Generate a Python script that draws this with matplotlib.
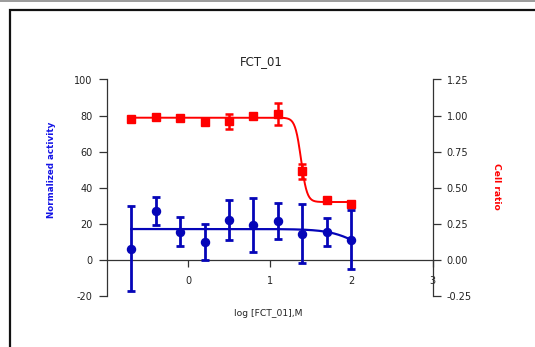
import numpy as np
import matplotlib
matplotlib.use("Agg")
import matplotlib.pyplot as plt
from matplotlib.patches import Rectangle
from matplotlib.lines import Line2D

plt.rcParams["font.family"] = ["DejaVu Sans"]
plt.rcParams["axes.unicode_minus"] = False

# log concentration (2-fold dilution series)
log_conc = [-0.7, -0.4, -0.1, 0.2, 0.5, 0.8, 1.1, 1.4, 1.7, 2.0]

# normalized activity (left axis), mean and error
activity = [6.0, 27.0, 15.5, 10.0, 22.0, 19.5, 21.5, 14.5, 15.2, 11.0]
activity_err = [23.6, 8.0, 8.0, 10.0, 11.2, 15.0, 10.0, 16.2, 7.7, 16.3]

# cell ratio (right axis), mean and error
cell_ratio = [0.973, 0.99, 0.984, 0.953, 0.962, 1.0, 1.01, 0.613, 0.414, 0.389]
cell_ratio_err = [0.0, 0.0, 0.0, 0.0, 0.052, 0.0, 0.079, 0.053, 0.0, 0.0]

# four-parameter logistic fits: top, bottom, logIC50, hill slope
activity_fit = (17.0, 0.0, 2.11, 2.4)
cell_ratio_fit = (0.985, 0.40, 1.385, 12.0)

left_ticks = [-20, 0, 20, 40, 60, 80, 100]
right_ticks = [-0.25, 0.0, 0.25, 0.5, 0.75, 1.0, 1.25]
x_ticks = [0, 1, 2, 3]


def logistic4(x, top, bottom, logic50, hill):
    return bottom + (top - bottom) / (1.0 + 10.0 ** ((x - logic50) * hill))


W, H = 535, 347
fig = plt.figure(figsize=(W / 100, H / 100), dpi=100)
fig.patch.set_facecolor("white")

# page frame
fig.add_artist(Line2D([0, 1], [1 - 0.7 / H, 1 - 0.7 / H], transform=fig.transFigure,
                      color="#8a8a8a", lw=1.2))
fig.add_artist(Rectangle((10 / W, -0.2), 1.2, 1.2 - 10 / H, transform=fig.transFigure,
                         fill=False, edgecolor="#111111", lw=1.6, clip_on=False))

ax_l, ax_r, ax_t, ax_b = 106.7, 432.7, 79.5, 295.7
ax = fig.add_axes([ax_l / W, (H - ax_b) / H, (ax_r - ax_l) / W, (ax_b - ax_t) / H])
ax.set_facecolor("none")
ax2 = ax.twinx()

blue = "#0505B8"
red = "#FF0000"
axis_col = "#333333"
text_col = "#222222"

# activity series
xf = np.linspace(log_conc[0], log_conc[-1], 400)
ax.plot(xf, logistic4(xf, *activity_fit), color=blue, lw=1.6, zorder=2)
ax.errorbar(log_conc, activity, yerr=activity_err, fmt="o", color=blue, ms=5.8,
            elinewidth=2.0, capsize=3.2, capthick=2.0, zorder=3)

# cell ratio series
ax2.plot(xf, logistic4(xf, *cell_ratio_fit), color=red, lw=1.4, zorder=2)
ax2.errorbar(log_conc, cell_ratio, yerr=cell_ratio_err, fmt="s", color=red, ms=5.4,
             elinewidth=1.8, capsize=3.0, capthick=1.8, zorder=3)

ax.set_xlim(-1, 3)
ax.set_ylim(-20, 100)
ax2.set_ylim(-0.25, 1.25)

for a in (ax, ax2):
    a.spines["top"].set_visible(False)
    for s in a.spines.values():
        s.set_color(axis_col)
        s.set_linewidth(0.9)
ax.spines["right"].set_visible(False)
ax.spines["bottom"].set_position(("data", 0))
ax2.spines["left"].set_visible(False)
ax2.spines["bottom"].set_visible(False)

ax.set_xticks(x_ticks)
ax.set_xticklabels([str(v) for v in x_ticks])
ax.set_yticks(left_ticks)
ax.set_yticklabels([str(v) for v in left_ticks])
ax2.set_yticks(right_ticks)
ax2.set_yticklabels(["%.2f" % v for v in right_ticks])

ax.tick_params(axis="x", direction="out", length=5, width=0.9, colors=axis_col,
               labelcolor=text_col, labelsize=7, pad=6.5)
ax.tick_params(axis="y", direction="out", length=6, width=0.9, colors=axis_col,
               labelcolor=text_col, labelsize=7, pad=4)
ax2.tick_params(axis="y", direction="out", length=6, width=0.9, colors=axis_col,
                labelcolor=text_col, labelsize=7, pad=4)

fig.text(261.5 / W, 1 - 61.5 / H, "FCT_01", ha="center", va="center",
         fontsize=8.5, color=text_col)
fig.text(268.5 / W, 1 - 313 / H, "log [FCT_01],M", ha="center", va="center",
         fontsize=6.6, color=text_col)
fig.text(51 / W, 1 - 170 / H, "Normalized activity", ha="center", va="center",
         rotation=90, fontsize=6.3, fontweight="bold", color="#1414E6")
fig.text(497 / W, 1 - 186 / H, "Cell ratio", ha="center", va="center",
         rotation=270, fontsize=6.6, fontweight="bold", color=red)

fig.savefig("out.png", dpi=100)
